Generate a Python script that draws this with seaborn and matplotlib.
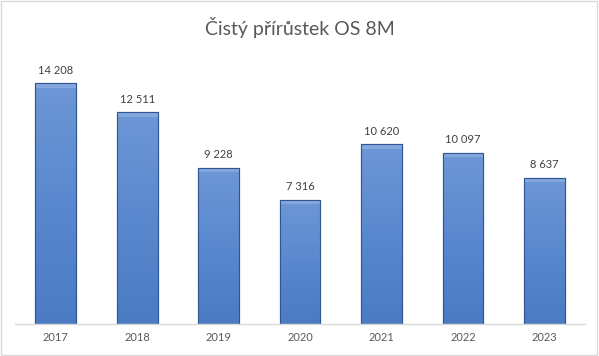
import numpy as np
import matplotlib
matplotlib.use("Agg")
import matplotlib.pyplot as plt
import seaborn as sns
from matplotlib.colors import LinearSegmentedColormap
from matplotlib.patches import Rectangle

years = ["2017", "2018", "2019", "2020", "2021", "2022", "2023"]
values = [14208, 12511, 9228, 7316, 10620, 10097, 8637]
title = "Čistý přírůstek OS 8M"


def fmt(v):
    return f"{v:,}".replace(",", " ")


def main():
    sns.set_style("white")
    plt.rcParams["font.family"] = ["Lato", "DejaVu Sans"]

    fig = plt.figure(figsize=(5.99, 3.56), dpi=100)
    ax = fig.add_axes([0.025, 0.09, 0.952, 0.761])

    sns.barplot(x=years, y=values, color="#5585CC", width=0.5,
                edgecolor="#2F5597", linewidth=0.8, ax=ax)

    cmap = LinearSegmentedColormap.from_list("bar", ["#4A7BC3", "#5A88CF", "#6D97D6"])
    grad = np.linspace(0, 1, 256).reshape(-1, 1)
    for p in ax.patches:
        x0, y0 = p.get_x(), p.get_y()
        w, h = p.get_width(), p.get_height()
        im = ax.imshow(grad, cmap=cmap, aspect="auto", origin="lower",
                       extent=[x0, x0 + w, y0, y0 + h], zorder=p.get_zorder() + 0.1)
        im.set_clip_path(p)
        # top bevel highlight
        ax.add_patch(Rectangle((x0, y0 + h - 260), w, 260, facecolor="#9DBBE6",
                               edgecolor="none", alpha=0.5, zorder=p.get_zorder() + 0.2))
        ax.add_patch(Rectangle((x0, y0), w, h, facecolor="none", edgecolor="#2F5597",
                               linewidth=0.8, zorder=p.get_zorder() + 0.3))

    for i, v in enumerate(values):
        ax.text(i, v + 450, fmt(v), ha="center", va="bottom", fontsize=8, color="#404040")

    ax.set_xlim(-0.5, 6.5)
    ax.set_ylim(0, 16000)
    ax.set_yticks([])
    ax.set_xlabel("")
    ax.set_ylabel("")
    ax.tick_params(axis="x", length=0, labelsize=8, labelcolor="#595959", pad=6)
    for s in ["top", "right", "left"]:
        ax.spines[s].set_visible(False)
    ax.spines["bottom"].set_color("#D9D9D9")
    ax.spines["bottom"].set_linewidth(1)

    fig.text(0.5, 0.922, title, ha="center", va="center", fontsize=14, color="#595959")
    fig.patches.append(Rectangle((0.002, 0.003), 0.995, 0.994, transform=fig.transFigure,
                                 facecolor="none", edgecolor="#D9D9D9", linewidth=1))

    fig.savefig("out.png", dpi=100)


if __name__ == "__main__":
    main()
